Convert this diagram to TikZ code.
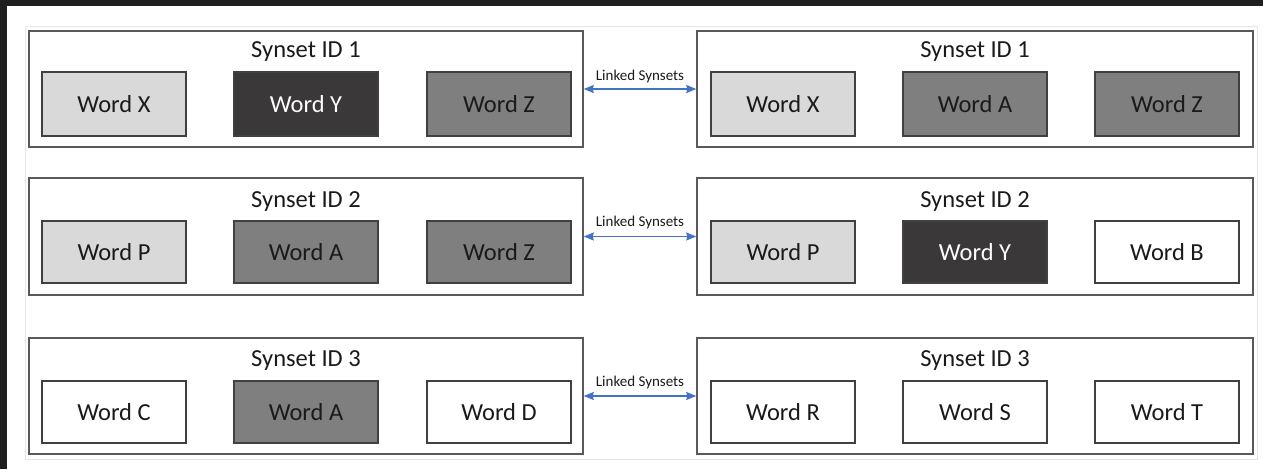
\documentclass[tikz,border=0pt]{standalone}
\usepackage{fontspec}
\setmainfont{Carlito}
\usetikzlibrary{arrows.meta}
\definecolor{frame}{HTML}{1F1F1F}
\definecolor{lightfill}{HTML}{D9D9D9}
\definecolor{midfill}{HTML}{7F7F7F}
\definecolor{darkfill}{HTML}{3A3838}
\definecolor{boxline}{HTML}{595959}
\definecolor{wordline}{HTML}{404040}
\definecolor{txt}{HTML}{1A1A1A}
\definecolor{arrowblue}{HTML}{4472C4}
\tikzset{
  outerbox/.style={draw=boxline, line width=1.5pt, fill=white, minimum height=116pt, inner sep=0pt},
  wordbox/.style={draw=wordline, line width=1.3pt, minimum width=144pt, minimum height=64pt, inner sep=0pt,
    font=\fontsize{24.5}{28}\selectfont, text=txt},
  wl/.style={wordbox, fill=lightfill},
  wm/.style={wordbox, fill=midfill},
  wd/.style={wordbox, fill=darkfill, text=white},
  ww/.style={wordbox, fill=white},
  titletext/.style={font=\fontsize{24.5}{28}\selectfont, text=txt, inner sep=0pt},
  linklabel/.style={font=\fontsize{15}{17}\selectfont, text=txt, inner sep=0pt},
  linkarrow/.style={draw=arrowblue, line width=1.2pt, {Stealth[length=10pt,width=8pt,inset=1pt]}-{Stealth[length=10pt,width=8pt,inset=1pt]}}
}
\begin{document}
\begin{tikzpicture}[x=1pt, y=-1pt]
\useasboundingbox (0,0) rectangle (1263,469);
\fill[white] (0,0) rectangle (1263,469);
\fill[frame] (0,0) rectangle (1263,6);
\fill[frame] (0,0) rectangle (7,469);
\draw[draw=black!10, line width=1pt] (25,26) rectangle (1257,459);

% Row 1
\node[outerbox, minimum width=554pt] (L1) at (306,89) {};
\node[outerbox, minimum width=556pt] (R1) at (975,89) {};
\node[titletext] (L1t) at (306,52) {Synset ID 1};
\node[titletext] (R1t) at (975,52) {Synset ID 1};
\node[wl] (L1a) at (114,104) {Word X};
\node[wd] (L1b) at (306,104) {Word Y};
\node[wm] (L1c) at (499,104) {Word Z};
\node[wl] (R1a) at (783,104) {Word X};
\node[wm] (R1b) at (975,104) {Word A};
\node[wm] (R1c) at (1167,104) {Word Z};
\draw[linkarrow] (L1.east) -- (R1.west);
\node[linklabel] (K1) at (640,76) {Linked Synsets};

% Row 2
\node[outerbox, minimum width=554pt, minimum height=117pt] (L2) at (306,236.5) {};
\node[outerbox, minimum width=556pt, minimum height=117pt] (R2) at (975,236.5) {};
\node[titletext] (L2t) at (306,202) {Synset ID 2};
\node[titletext] (R2t) at (975,202) {Synset ID 2};
\node[wl, minimum height=62pt] (L2a) at (114,252) {Word P};
\node[wm, minimum height=62pt] (L2b) at (306,252) {Word A};
\node[wm, minimum height=62pt] (L2c) at (499,252) {Word Z};
\node[wl, minimum height=62pt] (R2a) at (783,252) {Word P};
\node[wd, minimum height=62pt] (R2b) at (975,252) {Word Y};
\node[ww, minimum height=62pt] (R2c) at (1167,252) {Word B};
\draw[linkarrow] (L2.east) -- (R2.west);
\node[linklabel] (K2) at (640,222) {Linked Synsets};

% Row 3
\node[outerbox, minimum width=554pt] (L3) at (306,396) {};
\node[outerbox, minimum width=556pt] (R3) at (975,396) {};
\node[titletext] (L3t) at (306,361) {Synset ID 3};
\node[titletext] (R3t) at (975,361) {Synset ID 3};
\node[ww, minimum height=62pt] (L3a) at (114,412) {Word C};
\node[wm, minimum height=62pt] (L3b) at (306,412) {Word A};
\node[ww, minimum height=62pt] (L3c) at (499,412) {Word D};
\node[ww, minimum height=62pt] (R3a) at (783,412) {Word R};
\node[ww, minimum height=62pt] (R3b) at (975,412) {Word S};
\node[ww, minimum height=62pt] (R3c) at (1167,412) {Word T};
\draw[linkarrow] (L3.east) -- (R3.west);
\node[linklabel] (K3) at (640,382) {Linked Synsets};
\end{tikzpicture}
\end{document}
